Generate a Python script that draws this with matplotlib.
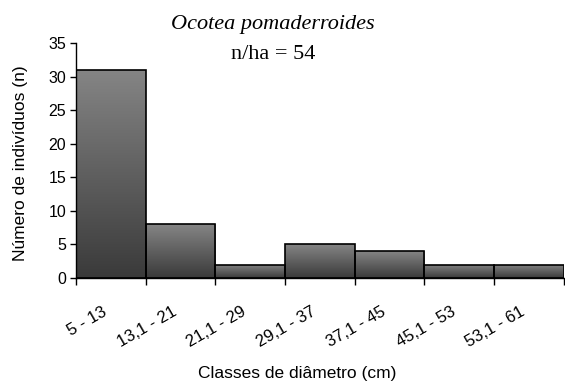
import numpy as np
import matplotlib.pyplot as plt
from matplotlib.colors import LinearSegmentedColormap
from matplotlib.transforms import ScaledTranslation

classes = ["5 - 13", "13,1 - 21", "21,1 - 29", "29,1 - 37",
           "37,1 - 45", "45,1 - 53", "53,1 - 61"]
counts = [31, 8, 2, 5, 4, 2, 2]

plt.rcParams["font.family"] = ["Liberation Sans", "DejaVu Sans"]

fig = plt.figure(figsize=(5.65, 3.82), dpi=100)
ax = fig.add_axes([0.1345, 0.2723, 0.8635, 0.6151])

# dark at the foot of each bar, lighter towards its top
shade = LinearSegmentedColormap.from_list("shade", ["#3a3a3a", "#858585"])
grad = np.linspace(0, 1, 256).reshape(-1, 1)

x = np.arange(len(classes))
bars = ax.bar(x, counts, width=1.0, facecolor="none", edgecolor="black",
              linewidth=1.2, zorder=3)
for bar in bars:
    x0, y0 = bar.get_x(), bar.get_y()
    w, h = bar.get_width(), bar.get_height()
    im = ax.imshow(grad, cmap=shade, origin="lower", aspect="auto",
                   extent=[x0, x0 + w, y0, y0 + h], zorder=2)
    im.set_clip_path(bar)

ax.set_xlim(-0.5, len(classes) - 0.5)
ax.set_ylim(0, 35)
ax.set_yticks(range(0, 36, 5))
ax.tick_params(axis="y", labelsize=11.5, length=4, width=1, pad=3)

# ticks sit on the class boundaries, labels centred under each class
ax.set_xticks(np.arange(len(classes) + 1) - 0.5)
ax.set_xticklabels([])
ax.tick_params(axis="x", length=5, width=1)
ax.set_xticks(x, minor=True)
ax.set_xticklabels(classes, minor=True, rotation=30, ha="right",
                   rotation_mode="anchor", fontsize=12)
ax.tick_params(axis="x", which="minor", length=0, pad=19)
shift = ScaledTranslation(-9 / 100, 0, fig.dpi_scale_trans)
for lbl in ax.get_xticklabels(minor=True):
    lbl.set_transform(lbl.get_transform() + shift)

for side in ("top", "right"):
    ax.spines[side].set_visible(False)
ax.spines["left"].set_linewidth(1)
ax.spines["bottom"].set_linewidth(1)

ax.set_ylabel("Número de indivíduos (n)", fontsize=12.5)
ax.yaxis.set_label_coords(-0.098, 0.487)
ax.set_xlabel("Classes de diâmetro (cm)", fontsize=12.5)
ax.xaxis.set_label_coords(0.453, -0.375)

fig.text(0.483, 0.935, "Ocotea pomaderroides", ha="center", va="center",
         fontsize=16, style="italic", family="Liberation Serif")
fig.text(0.483, 0.857, "n/ha = 54", ha="center", va="center",
         fontsize=16, family="Liberation Serif")

fig.savefig("out.png", dpi=100)
